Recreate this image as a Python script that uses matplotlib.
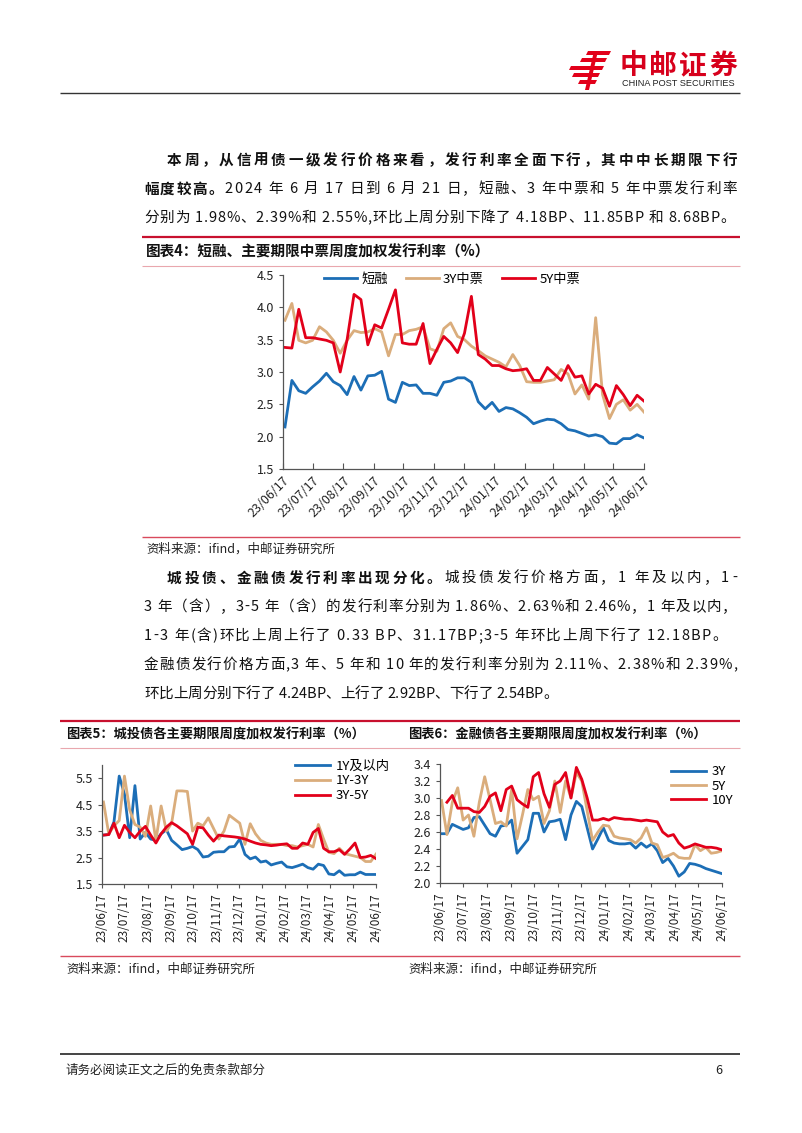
import numpy as np
import pandas as pd
import matplotlib
matplotlib.use('Agg')
import matplotlib.pyplot as plt
import matplotlib.dates as mdates
from matplotlib.patches import Polygon
from matplotlib.font_manager import findfont, FontProperties
from matplotlib.ft2font import FT2Font

plt.rcParams['font.family'] = ['Noto Sans CJK SC', 'DejaVu Sans']

W, H = 802, 1133
BLUE = '#1C6EB6'
TAN = '#DAAD7C'
RED = '#E2001A'

# weekly issuance dates and monthly ticks
dates = pd.date_range(end='2024-06-17', periods=53, freq='7D')
month_ticks = pd.date_range('2023-06-17', periods=13, freq=pd.DateOffset(months=1))

# 图表4: 短融 / 3Y中票 / 5Y中票
cp = [2.15, 2.87, 2.71, 2.67, 2.77, 2.86, 2.98, 2.85, 2.79, 2.65,
      2.93, 2.72, 2.94, 2.95, 3.01, 2.58, 2.53, 2.84, 2.79, 2.80,
      2.67, 2.67, 2.64, 2.84, 2.86, 2.91, 2.91, 2.84, 2.54, 2.43,
      2.53, 2.39, 2.45, 2.43, 2.37, 2.30, 2.20, 2.24, 2.27, 2.26,
      2.20, 2.11, 2.09, 2.05, 2.01, 2.03, 2.00, 1.90, 1.89, 1.97,
      1.97, 2.03, 1.98]
mtn3 = [3.80, 4.06, 3.49, 3.45, 3.49, 3.70, 3.62, 3.49, 3.29, 3.49,
        3.64, 3.61, 3.62, 3.67, 3.62, 3.25, 3.58, 3.58, 3.64, 3.66,
        3.70, 3.36, 3.32, 3.67, 3.76, 3.55, 3.50, 3.40, 3.33, 3.25,
        3.20, 3.15, 3.08, 3.27, 3.10, 2.85, 2.84, 2.84, 2.86, 2.88,
        3.04, 2.97, 2.66, 2.80, 2.58, 3.84, 2.65, 2.28, 2.50, 2.57,
        2.41, 2.50, 2.38]
mtn5 = [3.38, 3.37, 3.97, 3.53, 3.53, 3.51, 3.49, 3.45, 3.00, 3.50,
        4.20, 4.12, 3.42, 3.73, 3.68, 3.97, 4.27, 3.45, 3.43, 3.43,
        3.75, 3.13, 3.35, 3.55, 3.45, 3.30, 3.60, 4.17, 3.27, 3.20,
        3.10, 3.10, 3.05, 3.02, 3.03, 3.05, 2.87, 2.87, 3.07, 2.97,
        2.87, 3.10, 2.92, 2.94, 2.66, 2.81, 2.75, 2.47, 2.79, 2.65,
        2.48, 2.64, 2.55]

# 图表5: 城投债
lgfv_1y = [3.35, 3.37, 3.85, 5.58, 4.90, 3.25, 5.22, 3.20, 3.45, 3.20,
           3.15, 3.40, 3.55, 3.15, 2.98, 2.80, 2.85, 2.92, 2.80, 2.52,
           2.55, 2.70, 2.72, 2.72, 2.90, 2.92, 3.20, 2.62, 2.45, 2.52,
           2.33, 2.37, 2.22, 2.28, 2.33, 2.15, 2.12, 2.18, 2.25, 2.12,
           2.06, 2.25, 2.20, 1.88, 1.85, 2.00, 1.83, 1.85, 1.85, 1.95,
           1.86, 1.86, 1.86]
lgfv_1_3y = [4.60, 3.40, 3.70, 3.90, 5.58, 4.30, 3.75, 3.65, 3.30, 4.45,
             3.15, 4.45, 3.50, 3.80, 5.02, 5.02, 5.00, 3.50, 3.80, 3.70,
             4.00, 3.60, 3.20, 3.50, 4.10, 3.95, 3.80, 3.00, 3.78, 3.40,
             3.15, 3.05, 3.00, 3.00, 3.00, 2.95, 2.95, 2.90, 2.95, 3.00,
             2.90, 3.75, 3.20, 2.70, 2.65, 2.85, 2.65, 2.60, 2.55, 2.50,
             2.35, 2.35, 2.63]
lgfv_3_5y = [3.35, 3.37, 3.80, 3.25, 3.72, 3.45, 3.25, 3.50, 3.68, 3.35,
             3.05, 3.40, 3.65, 3.82, 3.70, 3.55, 3.40, 3.00, 3.65, 3.62,
             3.35, 3.12, 3.35, 3.32, 3.30, 3.28, 3.25, 3.20, 3.12, 3.05,
             3.00, 2.98, 2.95, 2.97, 3.00, 3.02, 2.85, 2.85, 3.05, 3.00,
             3.45, 3.60, 2.85, 2.72, 2.72, 2.80, 2.62, 2.82, 3.05, 2.50,
             2.52, 2.58, 2.46]

# 图表6: 金融债
fin3 = [2.58, 2.58, 2.69, 2.66, 2.63, 2.65, 2.77, 2.78, 2.68, 2.58,
        2.55, 2.67, 2.68, 2.74, 2.35, 2.43, 2.51, 2.82, 2.82, 2.60,
        2.72, 2.73, 2.75, 2.51, 2.80, 2.96, 2.90, 2.65, 2.40, 2.52,
        2.65, 2.50, 2.47, 2.46, 2.46, 2.47, 2.41, 2.47, 2.42, 2.46,
        2.38, 2.24, 2.29, 2.20, 2.08, 2.13, 2.23, 2.22, 2.20, 2.17,
        2.15, 2.13, 2.11]
fin5 = [2.97, 2.57, 2.95, 3.12, 2.74, 2.80, 2.55, 2.95, 3.25, 2.98,
        2.70, 2.72, 2.67, 3.10, 2.52, 2.80, 3.10, 2.98, 3.02, 2.70,
        2.85, 3.20, 2.83, 3.20, 3.00, 3.30, 3.20, 2.85, 2.50, 2.60,
        2.68, 2.67, 2.55, 2.53, 2.52, 2.51, 2.47, 2.53, 2.65, 2.47,
        2.45, 2.30, 2.32, 2.35, 2.30, 2.29, 2.29, 2.45, 2.38, 2.42,
        2.35, 2.36, 2.38]
fin10 = [np.nan, 2.95, 3.03, 2.88, 2.88, 2.88, 2.84, 2.83, 2.90, 3.02,
         3.06, 2.85, 3.10, 3.14, 2.98, 2.93, 2.89, 3.25, 3.30, 3.05,
         2.89, 3.16, 3.20, 3.30, 3.00, 3.36, 3.22, 3.00, 2.74, 2.74,
         2.76, 2.74, 2.77, 2.76, 2.75, 2.75, 2.74, 2.73, 2.74, 2.73,
         2.72, 2.60, 2.55, 2.57, 2.47, 2.41, 2.43, 2.46, 2.44, 2.42,
         2.42, 2.41, 2.39]

fig = plt.figure(figsize=(W / 100, H / 100), dpi=100)
pg = fig.add_axes([0, 0, 1, 1])
pg.set_xlim(0, W)
pg.set_ylim(H, 0)
pg.axis('off')

_fonts = {}


def advances(s, size, weight):
    if weight not in _fonts:
        _fonts[weight] = FT2Font(findfont(FontProperties(family='Noto Sans CJK SC', weight=weight)))
    f = _fonts[weight]
    f.set_size(size, 100)
    return [f.load_char(ord(c)).linearHoriAdvance / 65536 for c in s]


def text_line(x0, y, parts, size=10.5, x1=None, gap=0.3, color='#111111'):
    chars = []
    for s, wt in parts:
        adv = advances(s, size, wt)
        chars += list(zip(s, adv, [wt] * len(s)))
    total = sum(a for _, a, _ in chars)
    if x1 is not None:
        gap = (x1 - x0 - total) / (len(chars) - 1)
    x = x0
    for c, a, wt in chars:
        if c != ' ':
            pg.text(x, y, c, fontsize=size, fontweight=wt, va='center', ha='left', color=color)
        x += a + gap


def hline(x0, x1, y, color, lw):
    pg.plot([x0, x1], [y, y], color=color, lw=lw, solid_capstyle='butt')


# header logo
logo = [[(588, 51), (611, 51), (609, 55), (586, 55)],
        [(582, 58), (607, 58), (605, 62), (580, 62)],
        [(571, 66), (604, 66), (602, 70), (569, 70)],
        [(574, 73), (600, 73), (598, 77), (572, 77)],
        [(580, 80), (597, 80), (595, 84), (578, 84)],
        [(594, 51), (598, 51), (589, 90), (585, 90)]]
for p in logo:
    pg.add_patch(Polygon(p, closed=True, color=RED, lw=0))
for i, c in enumerate('中邮证券'):
    pg.text(633 + 30 * i, 66, c, fontsize=20, fontweight='bold', color='#D7001C',
            ha='center', va='center')
pg.text(678, 84, 'CHINA POST SECURITIES', fontsize=6.6, family='Liberation Sans',
        ha='center', va='center', color='#222222')
hline(60, 740, 93, '#333333', 1.0)

# paragraph 1
text_line(167, 160, [('本周，从信用债一级发行价格来看，发行利率全面下行，其中中长期限下行', 'bold')], x1=737)
text_line(144, 189, [('幅度较高。', 'bold'),
                     ('2024 年 6 月 17 日到 6 月 21 日，短融、3 年中票和 5 年中票发行利率', 'normal')], x1=737)
text_line(144, 218, [('分别为 1.98%、2.39%和 2.55%,环比上周分别下降了 4.18BP、11.85BP 和 8.68BP。', 'normal')], x1=735)

# chart 4 frame
hline(142, 740, 237, '#C8102E', 1.6)
pg.text(146, 252, '图表4：短融、主要期限中票周度加权发行利率（%）', fontsize=10.5, fontweight='bold',
        va='center', ha='left', color='#111111')
hline(142, 740, 266, '#E9A7AE', 0.8)
hline(142, 740, 537, '#D94A5C', 1.0)
pg.text(146, 549, '资料来源：ifind，中邮证券研究所', fontsize=9, va='center', ha='left', color='#222222')

# paragraph 2
text_line(167, 578, [('城投债、金融债发行利率出现分化。', 'bold'),
                     ('城投债发行价格方面，1 年及以内，1-', 'normal')], x1=737)
text_line(144, 607, [('3 年（含），3-5 年（含）的发行利率分别为 1.86%、2.63%和 2.46%，1 年及以内，', 'normal')], x1=737)
text_line(144, 636, [('1-3 年(含)环比上周上行了 0.33 BP、31.17BP;3-5 年环比上周下行了 12.18BP。', 'normal')], x1=727)
text_line(144, 665, [('金融债发行价格方面,3 年、5 年和 10 年的发行利率分别为 2.11%、2.38%和 2.39%,', 'normal')], x1=737)
text_line(144, 694, [('环比上周分别下行了 4.24BP、上行了 2.92BP、下行了 2.54BP。', 'normal')], gap=0.0)

# chart 5/6 frame
hline(60, 740, 721, '#C8102E', 1.6)
pg.text(66, 734, '图表5：城投债各主要期限周度加权发行利率（%）', fontsize=9.5, fontweight='bold',
        va='center', ha='left', color='#111111')
pg.text(408, 734, '图表6：金融债各主要期限周度加权发行利率（%）', fontsize=9.5, fontweight='bold',
        va='center', ha='left', color='#111111')
hline(60, 740, 748, '#E9A7AE', 0.8)
hline(60, 740, 956, '#D94A5C', 1.0)
pg.text(66, 969, '资料来源：ifind，中邮证券研究所', fontsize=9, va='center', ha='left', color='#222222')
pg.text(408, 969, '资料来源：ifind，中邮证券研究所', fontsize=9, va='center', ha='left', color='#222222')

# footer
hline(60, 740, 1054, '#444444', 1.4)
pg.text(66, 1070, '请务必阅读正文之后的免责条款部分', fontsize=9, va='center', ha='left', color='#222222')
pg.text(719, 1070, '6', fontsize=9, va='center', ha='center', color='#222222')


def box(l, t, r, b):
    ax = fig.add_axes([l / W, 1 - b / H, (r - l) / W, (b - t) / H])
    ax.patch.set_visible(False)
    for s in ('top', 'right'):
        ax.spines[s].set_visible(False)
    for s in ('left', 'bottom'):
        ax.spines[s].set_color('#555555')
        ax.spines[s].set_linewidth(0.9)
    ax.set_xlim(month_ticks[0], month_ticks[-1])
    ax.set_xticks(month_ticks)
    ax.xaxis.set_major_formatter(mdates.DateFormatter('%y/%m/%d'))
    ax.tick_params(colors='#555555', labelcolor='#222222', width=0.8, length=3, labelsize=8.5)
    return ax


# 图表4
ax4 = box(283, 275, 644, 469)
ax4.plot(dates, cp, color=BLUE, lw=2, label='短融')
ax4.plot(dates, mtn3, color=TAN, lw=2, label='3Y中票')
ax4.plot(dates, mtn5, color=RED, lw=2, label='5Y中票')
ax4.set_ylim(1.5, 4.5)
ax4.set_yticks(np.arange(1.5, 4.51, 0.5))
ax4.yaxis.set_major_formatter('{x:.1f}')
ax4.tick_params(axis='x', direction='in', length=4, labelsize=9)
ax4.tick_params(axis='y', labelsize=9)
plt.setp(ax4.get_xticklabels(), rotation=45, ha='right', rotation_mode='anchor')
ax4.legend(loc='center', bbox_to_anchor=(452, 279), bbox_transform=pg.transData, ncol=3,
           frameon=False, fontsize=9.5, handlelength=2.5, columnspacing=1.4, handletextpad=0.3)

# 图表5
ax5 = box(102, 765, 376, 884)
ax5.plot(dates, lgfv_1y, color=BLUE, lw=2, label='1Y及以内')
ax5.plot(dates, lgfv_1_3y, color=TAN, lw=2, label='1Y-3Y')
ax5.plot(dates, lgfv_3_5y, color=RED, lw=2, label='3Y-5Y')
ax5.set_ylim(1.5, 6.0)
ax5.set_yticks(np.arange(1.5, 5.6, 1.0))
ax5.yaxis.set_major_formatter('{x:.1f}')
ax5.tick_params(axis='y', labelsize=9)
plt.setp(ax5.get_xticklabels(), rotation=90)
ax5.legend(loc='center left', bbox_to_anchor=(288, 781), bbox_transform=pg.transData,
           frameon=False, fontsize=9.5, handlelength=2.7, labelspacing=0.15, handletextpad=0.4,
           borderpad=0)

# 图表6
ax6 = box(440, 764, 722, 883)
ax6.plot(dates, fin3, color=BLUE, lw=2, label='3Y')
ax6.plot(dates, fin5, color=TAN, lw=2, label='5Y')
ax6.plot(dates, fin10, color=RED, lw=2, label='10Y')
ax6.set_ylim(2.0, 3.4)
ax6.set_yticks(np.arange(2.0, 3.41, 0.2))
ax6.yaxis.set_major_formatter('{x:.1f}')
ax6.tick_params(axis='y', labelsize=9)
plt.setp(ax6.get_xticklabels(), rotation=90)
ax6.legend(loc='center left', bbox_to_anchor=(664, 786), bbox_transform=pg.transData,
           frameon=False, fontsize=9.5, handlelength=2.7, labelspacing=0.1, handletextpad=0.4,
           borderpad=0)

fig.savefig('out.png', dpi=100)
